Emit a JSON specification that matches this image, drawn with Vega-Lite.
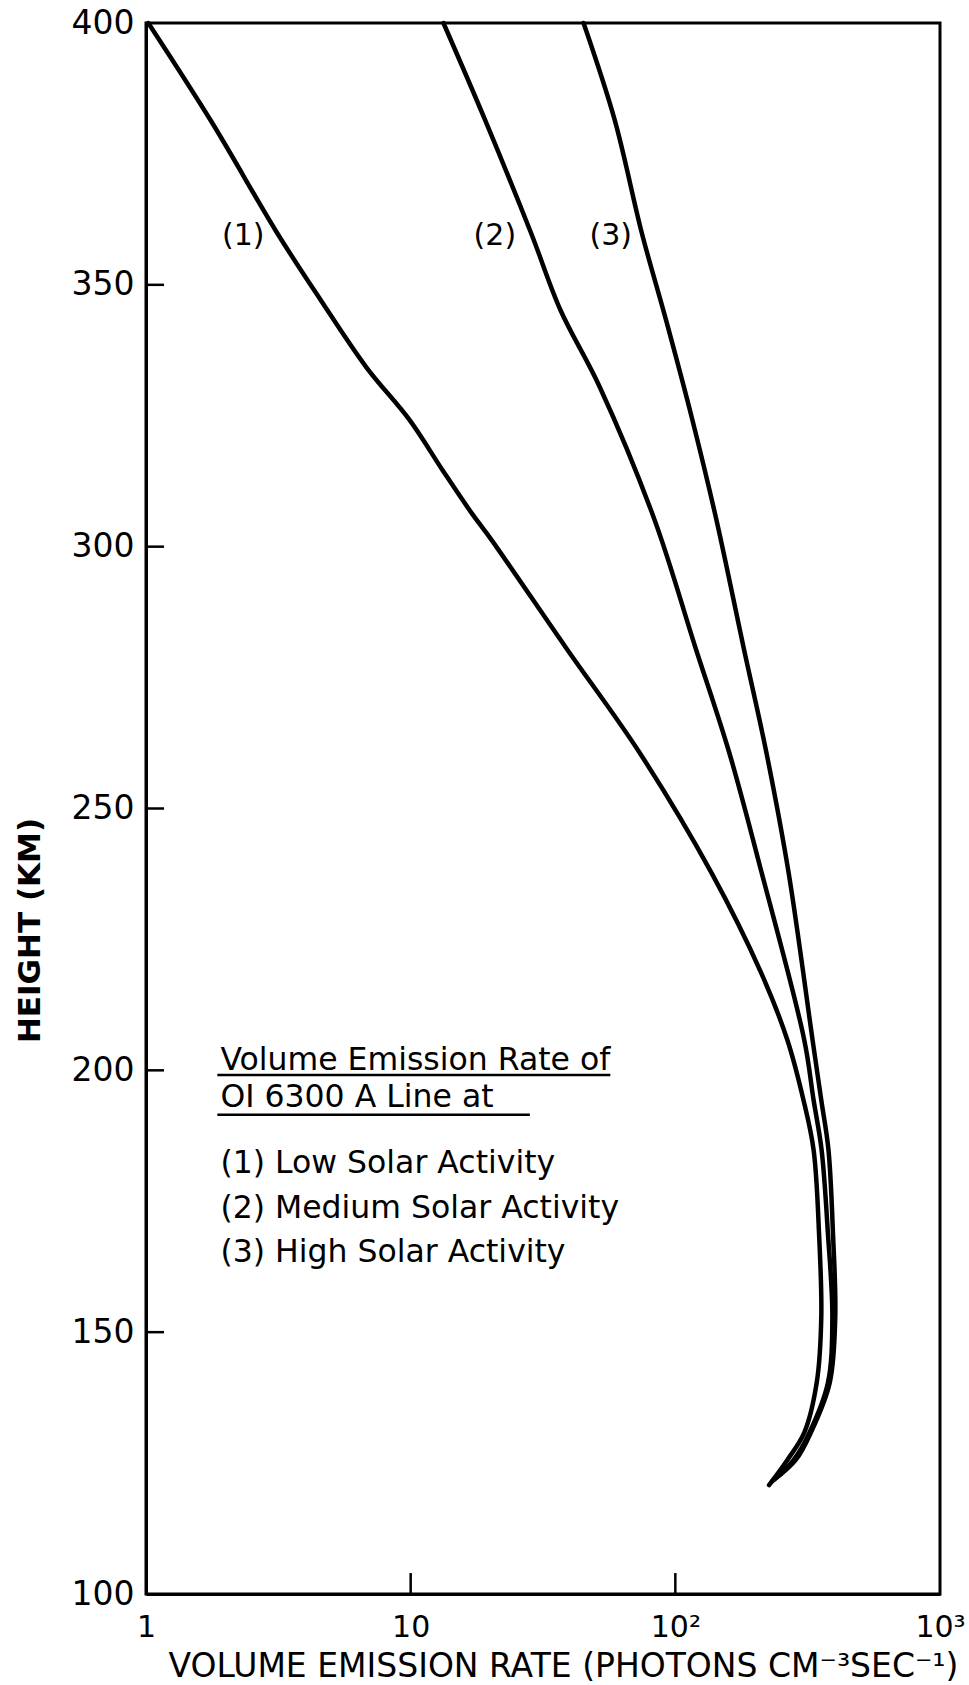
{
  "$schema": "https://vega.github.io/schema/vega-lite/v6.json",
  "width": 794,
  "height": 1571,
  "autosize": {"type": "none"},
  "padding": {"left": 146, "top": 23, "right": 29, "bottom": 91},
  "background": "white",
  "config": {
    "font": "DejaVu Sans",
    "view": {"stroke": "black", "strokeWidth": 3},
    "axis": {"grid": false, "ticks": false, "domainColor": "black", "domainWidth": 3, "labelColor": "black", "titleColor": "black", "labelFont": "DejaVu Sans", "titleFont": "DejaVu Sans"}
  },
  "datasets": {
    "curves": [
      {"curve": 1, "h": 400, "v": 1.02},
      {"curve": 1, "h": 380.9, "v": 1.78},
      {"curve": 1, "h": 359.9, "v": 3.13},
      {"curve": 1, "h": 347.1, "v": 4.57},
      {"curve": 1, "h": 334.3, "v": 6.79},
      {"curve": 1, "h": 324.2, "v": 9.9},
      {"curve": 1, "h": 314.6, "v": 13.2},
      {"curve": 1, "h": 306.4, "v": 17.0},
      {"curve": 1, "h": 301.3, "v": 20.2},
      {"curve": 1, "h": 280.8, "v": 38.5},
      {"curve": 1, "h": 260.6, "v": 73.4},
      {"curve": 1, "h": 237.7, "v": 137},
      {"curve": 1, "h": 218.6, "v": 211},
      {"curve": 1, "h": 205.8, "v": 265},
      {"curve": 1, "h": 194.3, "v": 305},
      {"curve": 1, "h": 184.8, "v": 333},
      {"curve": 1, "h": 169, "v": 349},
      {"curve": 1, "h": 152.9, "v": 356},
      {"curve": 1, "h": 140.3, "v": 342},
      {"curve": 1, "h": 130.8, "v": 307},
      {"curve": 1, "h": 125.6, "v": 265},
      {"curve": 1, "h": 120.8, "v": 226},
      {"curve": 2, "h": 400, "v": 13.3},
      {"curve": 2, "h": 381.5, "v": 19.1},
      {"curve": 2, "h": 359.9, "v": 28.5},
      {"curve": 2, "h": 345.2, "v": 36.8},
      {"curve": 2, "h": 330.5, "v": 51.8},
      {"curve": 2, "h": 305.1, "v": 83.5},
      {"curve": 2, "h": 280.8, "v": 119},
      {"curve": 2, "h": 260.6, "v": 160},
      {"curve": 2, "h": 237.7, "v": 212},
      {"curve": 2, "h": 205.8, "v": 307},
      {"curve": 2, "h": 194.3, "v": 333},
      {"curve": 2, "h": 184.8, "v": 357},
      {"curve": 2, "h": 169, "v": 377},
      {"curve": 2, "h": 152.9, "v": 392},
      {"curve": 2, "h": 140.3, "v": 377},
      {"curve": 2, "h": 130.8, "v": 321},
      {"curve": 2, "h": 125.6, "v": 280},
      {"curve": 2, "h": 121.5, "v": 232},
      {"curve": 3, "h": 400, "v": 45},
      {"curve": 3, "h": 381.5, "v": 59.0},
      {"curve": 3, "h": 359.9, "v": 74.7},
      {"curve": 3, "h": 343.3, "v": 92.2},
      {"curve": 3, "h": 324.2, "v": 116},
      {"curve": 3, "h": 305.1, "v": 143},
      {"curve": 3, "h": 280.8, "v": 181},
      {"curve": 3, "h": 260.6, "v": 221},
      {"curve": 3, "h": 237.7, "v": 268},
      {"curve": 3, "h": 205.8, "v": 330},
      {"curve": 3, "h": 194.3, "v": 356},
      {"curve": 3, "h": 184.8, "v": 379},
      {"curve": 3, "h": 169, "v": 394},
      {"curve": 3, "h": 152.9, "v": 402},
      {"curve": 3, "h": 140.3, "v": 383},
      {"curve": 3, "h": 130.8, "v": 325},
      {"curve": 3, "h": 125.6, "v": 285},
      {"curve": 3, "h": 121.8, "v": 236}
    ],
    "labels": [
      {"t": "(1)", "v": 2.33, "h": 359.3},
      {"t": "(2)", "v": 20.8, "h": 359.3},
      {"t": "(3)", "v": 57.0, "h": 359.3}
    ],
    "legend": [
      {"t": "Volume Emission Rate of", "v": 1.91, "h": 200.1},
      {"t": "OI 6300 A Line at", "v": 1.91, "h": 193.0},
      {"t": "(1) Low Solar Activity", "v": 1.91, "h": 180.4},
      {"t": "(2) Medium Solar Activity", "v": 1.91, "h": 171.8},
      {"t": "(3) High Solar Activity", "v": 1.91, "h": 163.4}
    ],
    "underlines": [
      {"v": 1.86, "v2": 56.8, "h": 199.1},
      {"v": 1.86, "v2": 28.2, "h": 191.5}
    ],
    "yticks": [
      {"h": 150, "v": 1, "v2": 1.17},
      {"h": 200, "v": 1, "v2": 1.17},
      {"h": 250, "v": 1, "v2": 1.17},
      {"h": 300, "v": 1, "v2": 1.17},
      {"h": 350, "v": 1, "v2": 1.17}
    ],
    "xticks": [
      {"v": 10, "h": 100, "h2": 104},
      {"v": 100, "h": 100, "h2": 104}
    ]
  },
  "layer": [
    {
      "data": {"name": "curves"},
      "mark": {"type": "line", "stroke": "black", "strokeWidth": 4.5, "interpolate": "catmull-rom", "strokeCap": "round", "strokeJoin": "round"},
      "encoding": {
        "x": {
          "field": "v", "type": "quantitative",
          "scale": {"type": "log", "domain": [1, 1000], "nice": false},
          "axis": {
            "values": [1, 10, 100, 1000],
            "labelExpr": "datum.value == 1 ? '1' : datum.value == 10 ? '10' : datum.value == 100 ? '10²' : '10³'",
            "labelPadding": 18, "labelFontSize": 30, "labelFlush": false, "labelOverlap": false,
            "title": "VOLUME EMISSION RATE (PHOTONS CM⁻³SEC⁻¹)",
            "titleFontSize": 33, "titleFontWeight": "normal",
            "titleX": 417, "titleY": 72, "titleAlign": "center", "titleBaseline": "middle"
          }
        },
        "y": {
          "field": "h", "type": "quantitative",
          "scale": {"domain": [100, 400], "nice": false, "zero": false},
          "axis": {
            "values": [100, 150, 200, 250, 300, 350, 400],
            "labelPadding": 12, "labelFontSize": 33, "labelFlush": false, "labelOverlap": false,
            "title": "HEIGHT (KM)",
            "titleFontSize": 31, "titleFontWeight": "bold",
            "titleAngle": -90, "titleX": -116, "titleY": 907, "titleAlign": "center", "titleBaseline": "middle"
          }
        },
        "detail": {"field": "curve"},
        "order": {"field": "h", "sort": "descending"}
      }
    },
    {
      "data": {"name": "yticks"},
      "mark": {"type": "rule", "stroke": "black", "strokeWidth": 2.5},
      "encoding": {
        "x": {"field": "v", "type": "quantitative"},
        "x2": {"field": "v2"},
        "y": {"field": "h", "type": "quantitative"}
      }
    },
    {
      "data": {"name": "xticks"},
      "mark": {"type": "rule", "stroke": "black", "strokeWidth": 2.5},
      "encoding": {
        "x": {"field": "v", "type": "quantitative"},
        "y": {"field": "h", "type": "quantitative"},
        "y2": {"field": "h2"}
      }
    },
    {
      "data": {"name": "labels"},
      "mark": {"type": "text", "fontSize": 30, "align": "center", "baseline": "middle", "color": "black"},
      "encoding": {
        "x": {"field": "v", "type": "quantitative"},
        "y": {"field": "h", "type": "quantitative"},
        "text": {"field": "t"}
      }
    },
    {
      "data": {"name": "legend"},
      "mark": {"type": "text", "fontSize": 31.5, "align": "left", "baseline": "alphabetic", "color": "black"},
      "encoding": {
        "x": {"field": "v", "type": "quantitative"},
        "y": {"field": "h", "type": "quantitative"},
        "text": {"field": "t"}
      }
    },
    {
      "data": {"name": "underlines"},
      "mark": {"type": "rule", "stroke": "black", "strokeWidth": 2.5},
      "encoding": {
        "x": {"field": "v", "type": "quantitative"},
        "x2": {"field": "v2"},
        "y": {"field": "h", "type": "quantitative"}
      }
    }
  ]
}
